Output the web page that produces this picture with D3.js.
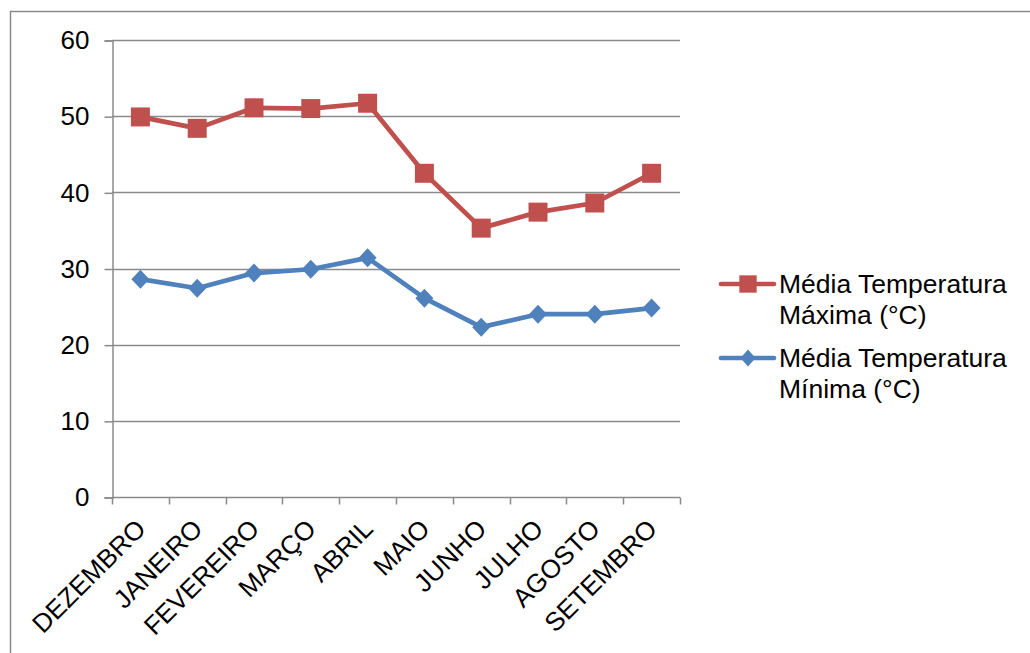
<!DOCTYPE html>
<html>
<head>
<meta charset="utf-8">
<script src="https://cdn.jsdelivr.net/npm/d3@7/dist/d3.min.js"></script>
<style>
  html, body { margin: 0; padding: 0; background: #fff; }
  svg { display: block; font-family: "Liberation Sans", Arial, sans-serif; }
</style>
</head>
<body>
<svg id="chart" width="1030" height="653"></svg>
<script>
// Monthly averages of maximum and minimum temperature (°C)
const months = ["DEZEMBRO", "JANEIRO", "FEVEREIRO", "MARÇO", "ABRIL", "MAIO", "JUNHO", "JULHO", "AGOSTO", "SETEMBRO"];
const tempMax = [49.9, 48.4, 51.1, 51.0, 51.7, 42.5, 35.3, 37.4, 38.6, 42.5];
const tempMin = [28.6, 27.4, 29.4, 29.9, 31.4, 26.1, 22.3, 24.0, 24.0, 24.8];
const yTicks = [0, 10, 20, 30, 40, 50, 60];
const seriesNames = [["Média Temperatura", "Máxima (°C)"], ["Média Temperatura", "Mínima (°C)"]];

const svg = d3.select("#chart");
const plot = { left: 112, right: 680, top: 40, bottom: 497 };
const axisColor = "#8a8a8a";

// outer frame (top and left edges)
svg.append("path")
  .attr("d", "M10.5,653 V11.5 H1030")
  .attr("fill", "none").attr("stroke", axisColor).attr("stroke-width", 1.5);

const x = d3.scaleBand().domain(months).range([plot.left, plot.right]).padding(0);
const y = d3.scaleLinear().domain([0, 60]).range([plot.bottom, plot.top]);

// horizontal gridlines
svg.append("g").selectAll("line").data(yTicks.filter(d => d > 0)).join("line")
  .attr("x1", plot.left).attr("x2", plot.right)
  .attr("y1", d => Math.round(y(d)) + 0.5).attr("y2", d => Math.round(y(d)) + 0.5)
  .attr("stroke", axisColor).attr("stroke-width", 1.5);

// y axis
const yAxis = svg.append("g").attr("transform", `translate(${plot.left + 0.5},0.5)`)
  .call(d3.axisLeft(y).tickValues(yTicks).tickSize(8).tickPadding(15).tickFormat(d3.format("d")));
yAxis.select(".domain").attr("stroke", axisColor).attr("stroke-width", 1.5);
yAxis.selectAll(".tick line").attr("stroke", axisColor).attr("stroke-width", 1.5);
yAxis.selectAll(".tick text").attr("font-size", 26).attr("fill", "#000")
  .attr("font-family", "Liberation Sans, Arial, sans-serif");

// x axis with ticks between categories
const xAxisG = svg.append("g").attr("transform", `translate(0,${Math.round(plot.bottom) + 0.5})`);
xAxisG.append("line").attr("x1", plot.left).attr("x2", plot.right)
  .attr("stroke", axisColor).attr("stroke-width", 1.5);
const boundaries = months.map(m => x(m)).concat([plot.right]);
xAxisG.selectAll("line.tk").data(boundaries).join("line").attr("class", "tk")
  .attr("x1", d => Math.round(d) + 0.5).attr("x2", d => Math.round(d) + 0.5)
  .attr("y1", 0).attr("y2", 7)
  .attr("stroke", axisColor).attr("stroke-width", 1.5);
xAxisG.selectAll("text").data(months).join("text")
  .attr("transform", m => `translate(${x(m) + x.bandwidth() / 2 - 6},${20}) rotate(-45)`)
  .attr("text-anchor", "end").attr("dy", "0.7em")
  .attr("font-size", 26).attr("fill", "#000")
  .text(m => m);

const cx = m => x(m) + x.bandwidth() / 2;
const line = d3.line().x(d => cx(d.m)).y(d => y(d.v));

// rhombus marker: w wide, h tall
const rhombus = (w, h) => ({
  draw(ctx) {
    ctx.moveTo(0, -h / 2); ctx.lineTo(w / 2, 0); ctx.lineTo(0, h / 2); ctx.lineTo(-w / 2, 0); ctx.closePath();
  }
});
const squareSym = d3.symbol().type(d3.symbolSquare).size(361);
const diamondSym = d3.symbol().type(rhombus(18, 19));
const squareLegend = d3.symbol().type(d3.symbolSquare).size(300);
const diamondLegend = d3.symbol().type(rhombus(15, 17));

const series = [
  { values: tempMax, color: "#C0504D", sym: squareSym },
  { values: tempMin, color: "#4F81BD", sym: diamondSym }
];

series.forEach(s => {
  const pts = months.map((m, i) => ({ m, v: s.values[i] }));
  svg.append("path").datum(pts).attr("d", line)
    .attr("fill", "none").attr("stroke", s.color).attr("stroke-width", 4.7)
    .attr("stroke-linejoin", "round").attr("stroke-linecap", "round");
  svg.append("g").selectAll("path").data(pts).join("path")
    .attr("transform", d => `translate(${cx(d.m)},${y(d.v)})`)
    .attr("d", s.sym())
    .attr("fill", s.color);
});

// legend
const legend = svg.append("g");
const legendRows = [
  { color: "#C0504D", sym: squareLegend, y: 284 },
  { color: "#4F81BD", sym: diamondLegend, y: 358 }
];
legendRows.forEach((r, i) => {
  legend.append("line").attr("x1", 721).attr("x2", 774).attr("y1", r.y).attr("y2", r.y)
    .attr("stroke", r.color).attr("stroke-width", 4.7).attr("stroke-linecap", "round");
  legend.append("path").attr("transform", `translate(748,${r.y})`)
    .attr("d", r.sym()).attr("fill", r.color);
  const t = legend.append("text").attr("x", 779).attr("y", r.y + 9)
    .attr("font-size", 26.5).attr("fill", "#000");
  seriesNames[i].forEach((ln, k) => {
    t.append("tspan").attr("x", 779).attr("dy", k === 0 ? 0 : 31).text(ln);
  });
});
</script>
</body>
</html>
